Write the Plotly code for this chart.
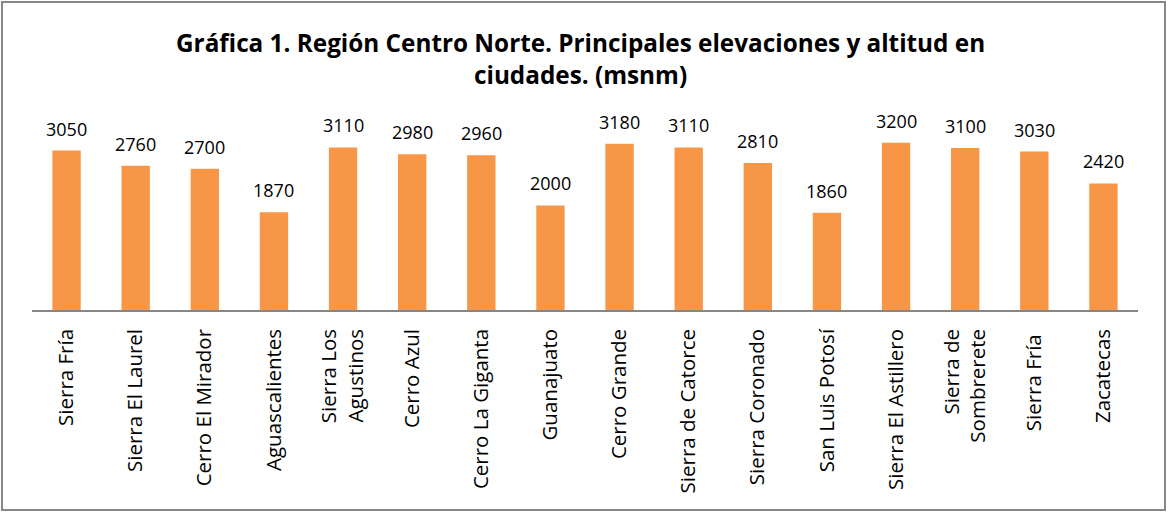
import plotly.graph_objects as go

# Gráfica 1: elevaciones y altitud de ciudades (msnm)
lugares = ["Sierra Fría", "Sierra El Laurel", "Cerro El Mirador", "Aguascalientes",
           "Sierra Los<br>Agustinos", "Cerro Azul", "Cerro La Giganta", "Guanajuato",
           "Cerro Grande", "Sierra de Catorce", "Sierra Coronado", "San Luis Potosí",
           "Sierra El Astillero", "Sierra de<br>Sombrerete", "Sierra Fría ", "Zacatecas"]
altitud = [3050, 2760, 2700, 1870, 3110, 2980, 2960, 2000,
           3180, 3110, 2810, 1860, 3200, 3100, 3030, 2420]

W, H = 1168, 512
ML, MR, MT, MB = 32, 30, 127, 202
pw, ph = W - ML - MR, H - MT - MB

fig = go.Figure()
fig.add_trace(go.Bar(
    x=lugares, y=altitud, width=0.41,
    marker=dict(color="#F79646", line=dict(width=0)),
))

# etiquetas de datos (separadas del borde de la barra como en Excel)
for lug, alt in zip(lugares, altitud):
    fig.add_annotation(x=lug, y=alt, text=str(alt), showarrow=False,
                       yanchor="bottom", yshift=8,
                       font=dict(size=18, color="#000000"))

fig.update_layout(
    width=W, height=H,
    margin=dict(l=ML, r=MR, t=MT, b=MB),
    paper_bgcolor="white", plot_bgcolor="white",
    font=dict(family="Open Sans, Liberation Sans, sans-serif", color="#000000"),
    title=dict(
        text="<b>Gráfica 1. Región Centro Norte. Principales elevaciones y altitud en<br>ciudades. (msnm)</b>",
        x=0.496, xref="paper", y=0.898, yanchor="top",
        font=dict(size=24.3, color="#000000"),
    ),
    showlegend=False,
)
fig.update_yaxes(range=[0, 3500], visible=False, showgrid=False)
fig.update_xaxes(showline=True, linecolor="#868686", linewidth=1.5,
                 tickangle=-90, tickfont=dict(size=20.5, color="#000000"),
                 ticks="", ticklabelstandoff=9, showgrid=False)

# borde del gráfico
fig.add_shape(type="rect", xref="paper", yref="paper",
              x0=(2 - ML) / pw, x1=(W - 3 - ML) / pw,
              y0=(H - MB - (H - 2)) / ph, y1=(H - MB - 2) / ph,
              line=dict(color="#878787", width=2))

fig.write_html("out.html", config={"displayModeBar": False},
               post_script="document.body.style.margin='0px';")
